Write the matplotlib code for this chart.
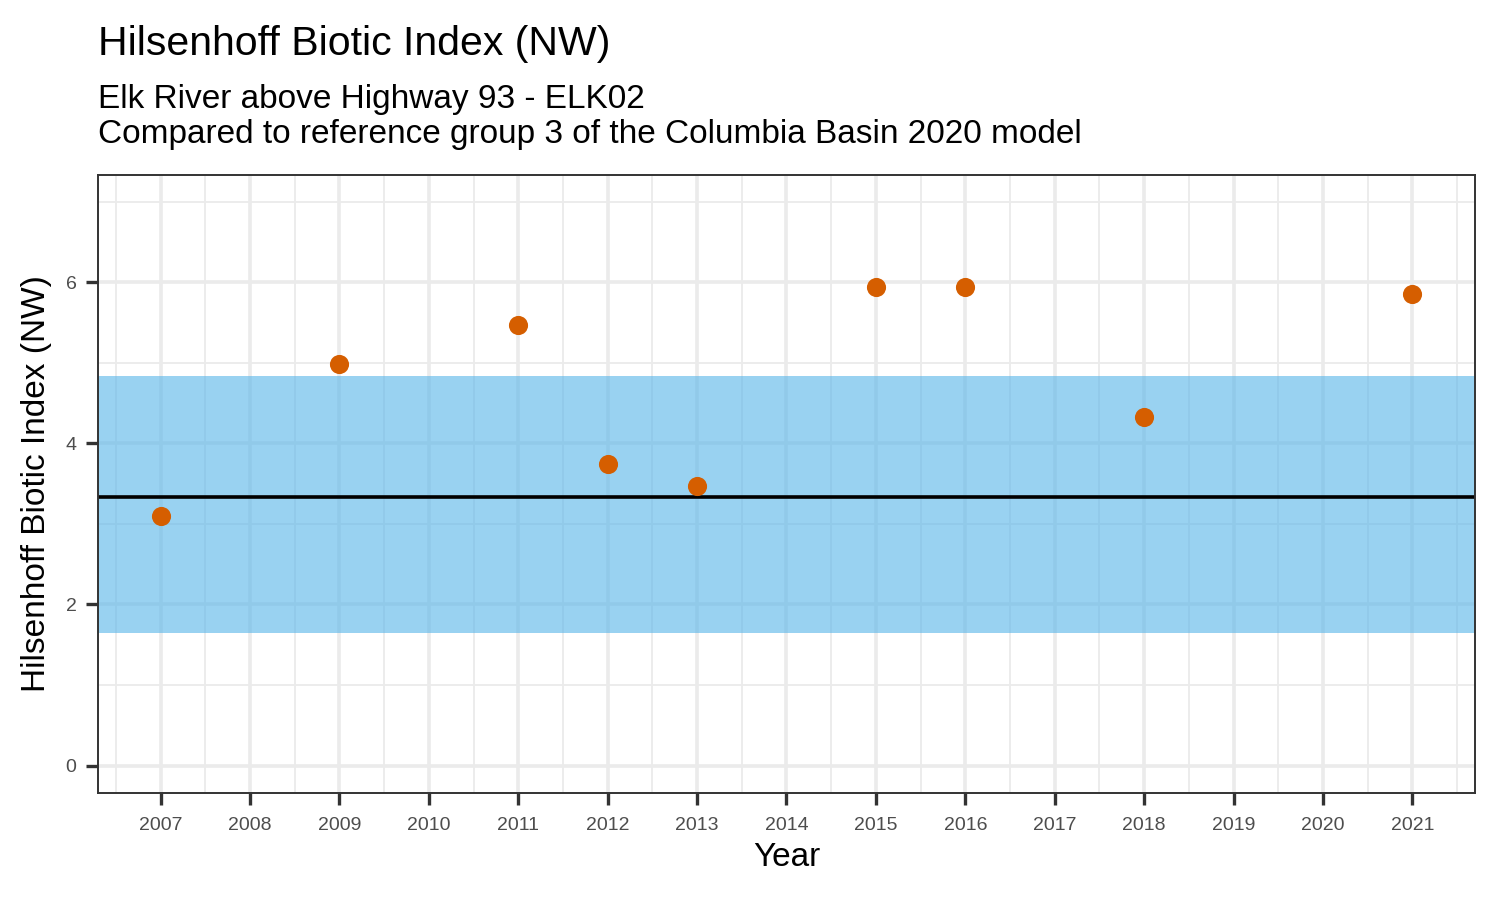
import matplotlib.pyplot as plt
import matplotlib as mpl
from matplotlib.ticker import MultipleLocator

mpl.rcParams.update({
    "font.family": ["Liberation Sans", "DejaVu Sans"],
    "axes.linewidth": 1.4,
    "axes.edgecolor": "#333333",
})

# data
years = [2007, 2009, 2011, 2012, 2013, 2015, 2016, 2018, 2021]
hbi = [3.10, 4.98, 5.47, 3.74, 3.47, 5.94, 5.94, 4.33, 5.85]
ref_low = 1.65
ref_high = 4.84
ref_mean = 3.33
year_ticks = list(range(2007, 2022))

fig = plt.figure(figsize=(15, 9), dpi=100)
ax = fig.add_axes([98 / 1500, 1 - 793 / 900, (1475 - 98) / 1500, (793 - 175) / 900])

ax.set_xlim(2006.3, 2021.7)
ax.set_ylim(-0.34, 7.33)

# grid like theme_bw
ax.set_xticks(year_ticks)
ax.set_xticklabels([str(y) for y in year_ticks])
ax.xaxis.set_minor_locator(MultipleLocator(1, offset=0.5))
ax.yaxis.set_major_locator(MultipleLocator(2))
ax.yaxis.set_minor_locator(MultipleLocator(1))
ax.grid(which='major', color='#EBEBEB', linewidth=2.6, zorder=0)
ax.grid(which='minor', color='#EBEBEB', linewidth=1.3, zorder=0)
ax.set_axisbelow(True)

ax.axhspan(ref_low, ref_high, color='#56B4E9', alpha=0.6, linewidth=0, zorder=1)
ax.axhline(ref_mean, color='black', linewidth=2.6, zorder=2)
ax.scatter(years, hbi, s=190, color='#D55E00', linewidths=0, zorder=3)

ax.tick_params(which='major', length=8.5, width=2.4, color='#333333',
               labelsize=14, labelcolor='#4D4D4D')
ax.tick_params(axis='x', pad=9)
ax.tick_params(axis='y', pad=7)
ax.tick_params(which='minor', length=0)

ax.set_xlabel('Year', fontsize=24, va='center')
ax.xaxis.set_label_coords(0.5, (793 - 858) / 618)
ax.set_ylabel('Hilsenhoff Biotic Index (NW)', fontsize=24, va='center')
ax.yaxis.set_label_coords((37 - 98) / 1377, 0.5)

fig.text(98 / 1500, 1 - 55 / 900, 'Hilsenhoff Biotic Index (NW)', fontsize=29.5,
         va='baseline', ha='left')
fig.text(98 / 1500, 1 - 108 / 900, 'Elk River above Highway 93 - ELK02', fontsize=24,
         va='baseline', ha='left')
fig.text(98 / 1500, 1 - 143 / 900,
         'Compared to reference group 3 of the Columbia Basin 2020 model', fontsize=24,
         va='baseline', ha='left')

plt.savefig('out.png', dpi=100)
